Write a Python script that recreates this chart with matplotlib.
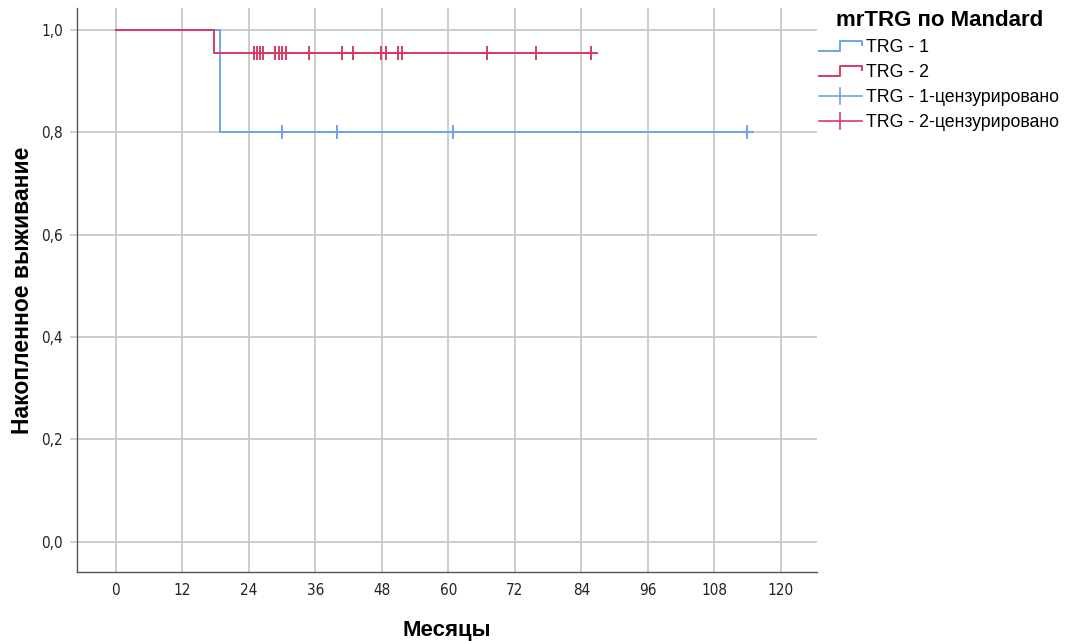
import matplotlib
matplotlib.use("Agg")
import matplotlib.pyplot as plt
from matplotlib.lines import Line2D
from matplotlib.legend_handler import HandlerBase

# ---- data ----
trg1_times = [0, 18.8, 113.9]
trg1_surv = [1.0, 0.8, 0.8]
trg1_cens_t = [30.0, 39.9, 60.8, 113.9]
trg1_cens_s = [0.8, 0.8, 0.8, 0.8]

trg2_times = [0, 17.7, 85.8]
trg2_surv = [1.0, 0.955, 0.955]
trg2_cens_t = [24.9, 25.4, 26.0, 26.6, 28.8, 29.4, 30.0, 30.7, 34.9, 40.8,
               42.8, 47.9, 48.7, 50.9, 51.7, 66.9, 75.8, 85.8]
trg2_cens_s = [0.955] * len(trg2_cens_t)

xticks = [0, 12, 24, 36, 48, 60, 72, 84, 96, 108, 120]
yticks = [0.0, 0.2, 0.4, 0.6, 0.8, 1.0]
ytick_labels = ["0,0", "0,2", "0,4", "0,6", "0,8", "1,0"]
legend_title = "mrTRG по Mandard"
legend_labels = ["TRG - 1", "TRG - 2", "TRG - 1-цензурировано", "TRG - 2-цензурировано"]

blue = "#6fa3ea"
red = "#d93a63"

plt.rcParams['font.family'] = ['Liberation Sans', 'DejaVu Sans']

fig = plt.figure(figsize=(10.68, 6.41), dpi=100)
ax = fig.add_axes([0.0721, 0.1076, 0.765 - 0.0721, 0.9875 - 0.1076])

ax.set_xlim(-7.0, 126.5)
ax.set_ylim(-0.059, 1.043)

tick_font = dict(family=['DejaVu Sans'], stretch='condensed', size=11)
ax.set_xticks(xticks)
ax.set_xticklabels([str(v) for v in xticks], **tick_font)
ax.set_yticks(yticks)
ax.set_yticklabels(ytick_labels, **tick_font)
ax.tick_params(axis='x', length=0, pad=8, labelcolor='#222222')
ax.tick_params(axis='y', length=5, width=1.2, color='#c8c8c8', pad=5, labelcolor='#222222')
ax.grid(True, color='#c8c8c8', linewidth=1.3)
ax.set_axisbelow(True)
for s in ['top', 'right']:
    ax.spines[s].set_visible(False)
for s in ['left', 'bottom']:
    ax.spines[s].set_color('#555555')
    ax.spines[s].set_linewidth(1.0)

ax.step(trg1_times, trg1_surv, where='post', color=blue, lw=1.4, zorder=3)
ax.plot(trg1_cens_t, trg1_cens_s, linestyle='none', marker='+', markersize=10,
        mew=1.4, color=blue, zorder=4)
ax.step(trg2_times, trg2_surv, where='post', color=red, lw=1.4, zorder=5)
ax.plot(trg2_cens_t, trg2_cens_s, linestyle='none', marker='+', markersize=10,
        mew=1.4, color=red, zorder=6)

ax.set_xlabel("Месяцы", fontsize=16, fontweight='bold', labelpad=16)
ax.set_ylabel("Накопленное выживание", fontsize=16.5, fontweight='bold', labelpad=5)


class StepHandler(HandlerBase):
    def create_artists(self, legend, orig_handle, xdescent, ydescent, width,
                       height, fontsize, trans):
        c = orig_handle.get_color()
        x0 = -xdescent
        y0 = -ydescent
        xs = [x0, x0 + 0.5 * width, x0 + 0.5 * width, x0 + width, x0 + width]
        ys = [y0 + 0.1 * height, y0 + 0.1 * height, y0 + 0.85 * height,
              y0 + 0.85 * height, y0 + 0.55 * height]
        ln = Line2D(xs, ys, color=c, lw=1.4, transform=trans)
        return [ln]


class CrossHandler(HandlerBase):
    def create_artists(self, legend, orig_handle, xdescent, ydescent, width,
                       height, fontsize, trans):
        c = orig_handle.get_color()
        x0 = -xdescent
        y0 = -ydescent
        h = Line2D([x0, x0 + width], [y0 + 0.45 * height] * 2, color=c, lw=1.2,
                   transform=trans)
        v = Line2D([x0 + 0.5 * width] * 2, [y0 - 0.2 * height, y0 + 1.1 * height],
                   color=c, lw=1.2, transform=trans)
        return [h, v]


class StepKey(Line2D):
    pass


class CrossKey(Line2D):
    pass


fig.text(836 / 1068, 1 - 20 / 641, legend_title, fontsize=16, fontweight='bold',
         ha='left', va='center')

handles = [StepKey([], [], color=blue), StepKey([], [], color=red),
           CrossKey([], [], color=blue), CrossKey([], [], color=red)]
leg = fig.legend(handles, legend_labels, loc='upper left',
                 bbox_to_anchor=(819 / 1068, 1 - 39 / 641), frameon=False,
                 handler_map={StepKey: StepHandler(), CrossKey: CrossHandler()},
                 fontsize=12.8, handlelength=2.4, handletextpad=0.25,
                 labelspacing=0.45, borderpad=0, borderaxespad=0)

fig.savefig("out.png", dpi=100)
